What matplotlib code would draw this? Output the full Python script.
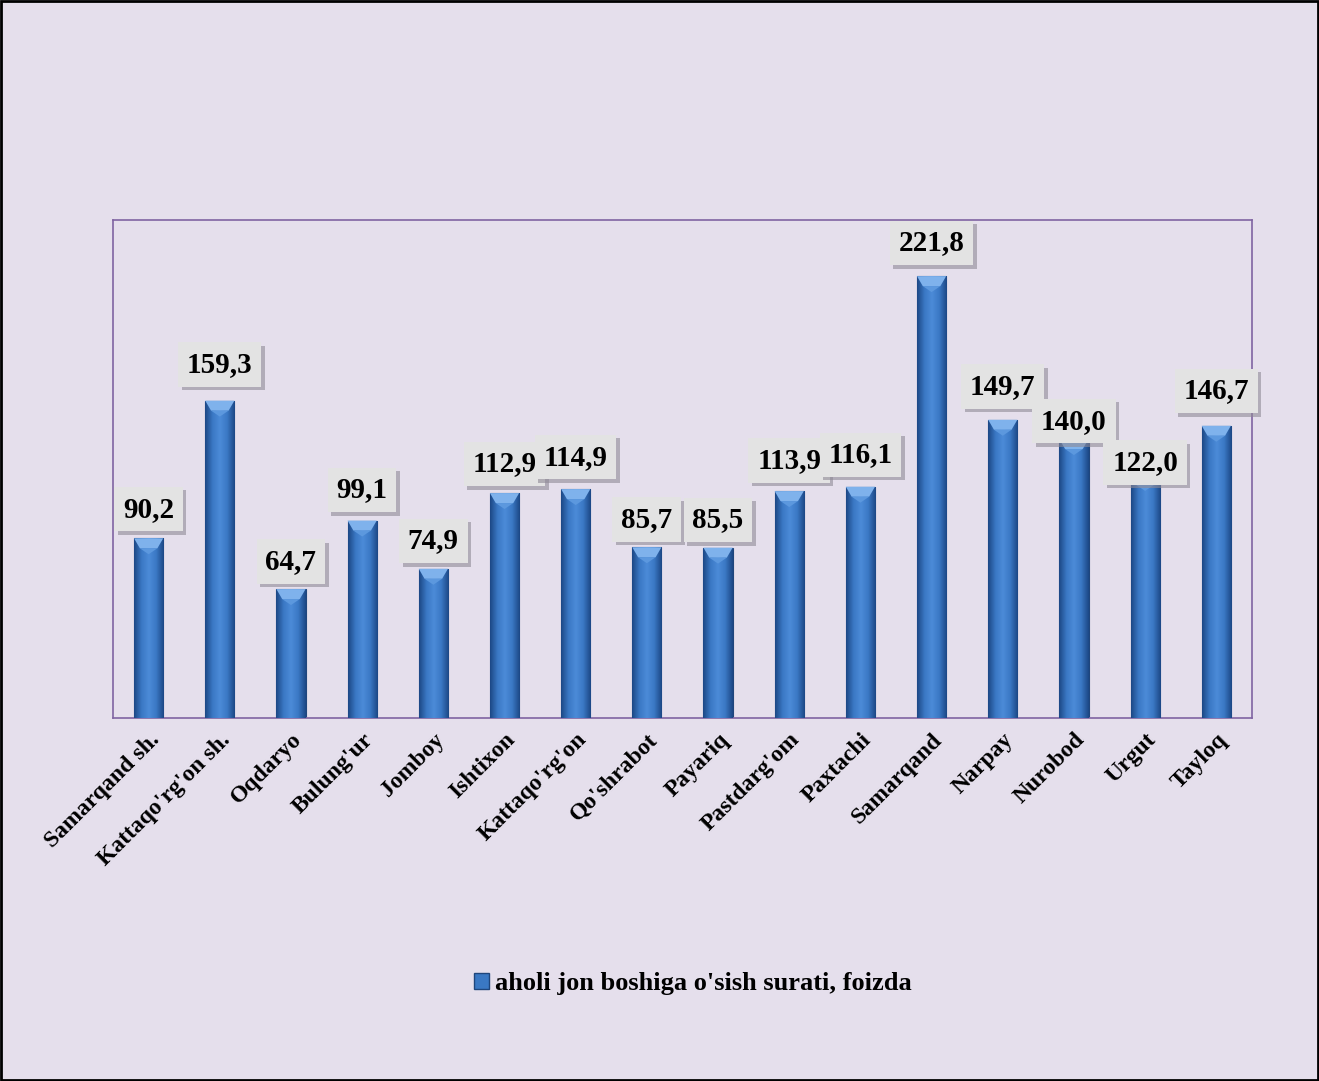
import numpy as np
import matplotlib.pyplot as plt
import matplotlib.patheffects as pe
from matplotlib.patches import Rectangle, Polygon
from matplotlib.colors import LinearSegmentedColormap

# Data.
Districts = ["Samarqand sh.", "Kattaqo'rg'on sh.", "Oqdaryo", "Bulung'ur", "Jomboy",
             "Ishtixon", "Kattaqo'rg'on", "Qo'shrabot", "Payariq", "Pastdarg'om",
             "Paxtachi", "Samarqand", "Narpay", "Nurobod", "Urgut", "Tayloq"]
GrowthRate = [90.2, 159.3, 64.7, 99.1, 74.9, 112.9, 114.9, 85.7, 85.5, 113.9,
              116.1, 221.8, 149.7, 140.0, 122.0, 146.7]
SeriesName = "aholi jon boshiga o'sish surati, foizda"

# Plot properties.
FontType = 'Liberation Serif'
BgColor = '#E5DFEC'
FrameColor = '#8064A2'
BarWidth = 0.41
LabelPad = [21, 26, 20, 22, 20, 21, 23, 20, 20, 22, 23, 24, 24, 13, 9, 25]

plt.rcParams['font.family'] = FontType
plt.rcParams['font.weight'] = 'bold'

fig = plt.figure(figsize = (13.19, 10.81), dpi = 100, facecolor = BgColor)
ax = fig.add_axes([0.0857, 0.3358, 0.8634, 0.4607])
ax.set_facecolor(BgColor)

x = np.arange(len(Districts))
Bars = ax.bar(x, GrowthRate, width = BarWidth, color = '#3670BA',
              edgecolor = '#1F467C', linewidth = 0.8, zorder = 2)

# Cylinder-like shading across each bar.
Shade = LinearSegmentedColormap.from_list('shade', ['#1C4886', '#3A78C4', '#4C8BD8',
                                                    '#3A78C4', '#1C4886'])
Grad = np.linspace(0, 1, 64).reshape(1, -1)
for b in Bars:
    x0, w, h = b.get_x(), b.get_width(), b.get_height()
    im = ax.imshow(Grad, cmap = Shade, aspect = 'auto', zorder = 3,
                   extent = [x0, x0 + w, 0, h])
    im.set_clip_path(b)
    # light bevel at the top
    ax.add_patch(Polygon([[x0, h], [x0 + w, h], [x0 + w * 0.8, h - 5], [x0 + w * 0.2, h - 5]],
                         closed = True, facecolor = '#7FB2EC', edgecolor = 'none', zorder = 4))
    ax.add_patch(Polygon([[x0 + w * 0.2, h - 5], [x0 + w * 0.8, h - 5], [x0 + w / 2, h - 8]],
                         closed = True, facecolor = '#5C98DE', edgecolor = 'none', zorder = 4))

# Value labels in grey boxes with a soft shadow.
for i, v in enumerate(GrowthRate):
    txt = f"{v:.1f}".replace('.', ',')
    t = ax.annotate(txt, (x[i], v), xytext = (0, LabelPad[i]),
                    textcoords = 'offset points', ha = 'center', va = 'center',
                    fontsize = 21, fontweight = 'bold', zorder = 6,
                    bbox = dict(boxstyle = 'square,pad=0.3', fc = '#E3E3E3', ec = 'none'))
    t.get_bbox_patch().set_path_effects([
        pe.SimplePatchShadow(offset = (2.5, -2.5), shadow_rgbFace = '#8F8A96', alpha = 0.6),
        pe.Normal()])

ax.set_xlim(-0.5, len(Districts) - 0.5)
ax.set_ylim(0, 250)
ax.set_yticks([])
ax.set_xticks(x)
ax.set_xticklabels(Districts, rotation = 45, ha = 'right', rotation_mode = 'anchor',
                   fontsize = 17, fontweight = 'bold')
ax.tick_params(axis = 'x', length = 0, pad = 8)
for s in ax.spines.values():
    s.set_color(FrameColor)
    s.set_linewidth(1.2)

# Legend below the chart.
Handle = Rectangle((0, 0), 1, 1, facecolor = '#3A78C3', edgecolor = '#1F467C')
fig.legend([Handle], [SeriesName], loc = 'center', bbox_to_anchor = (0.525, 0.09),
           frameon = False, handlelength = 0.6, handleheight = 0.6,
           handletextpad = 0.2, prop = {'size': 19, 'weight': 'bold'})

# Outer black border.
fig.patches.append(Rectangle((0.001, 0.001), 0.998, 0.998, transform = fig.transFigure,
                             fill = False, edgecolor = 'black', linewidth = 2))

plt.savefig('out.png', dpi = 100, facecolor = BgColor)
